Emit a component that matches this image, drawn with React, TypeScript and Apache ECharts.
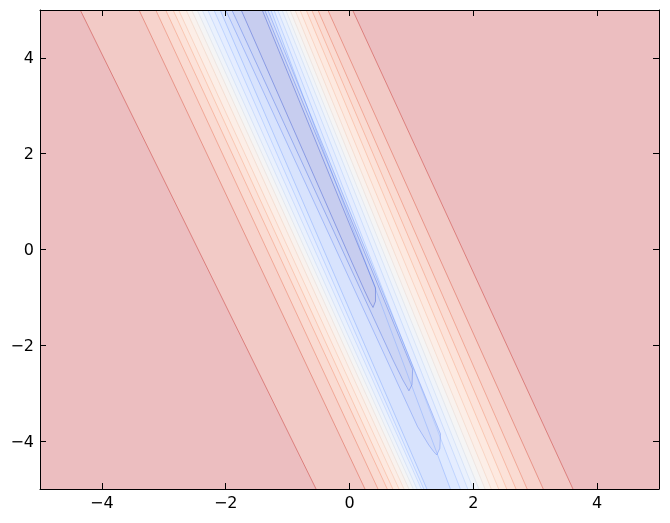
import { useEffect, useRef } from 'react';
import * as echarts from 'echarts';

// axis ticks
const xTicks = [-4, -2, 0, 2, 4];
const yTicks = [-4, -2, 0, 2, 4];

// contour lines, k = 0 (outermost, highest level) ... 15 (innermost, lowest level)
// x position where each contour's left / right arm crosses the top edge (y = 5)
const leftTopX = [-4.35, -3.40, -3.13, -2.97, -2.85, -2.76, -2.64, -2.55, -2.46, -2.38, -2.29, -2.19, -2.09, -2.00, -1.90, -1.75];
const rightTopX = [0.05, -0.35, -0.51, -0.61, -0.70, -0.80, -0.88, -0.96, -1.03, -1.09, -1.16, -1.22, -1.27, -1.32, -1.37, -1.41];
// x position where the open contours (k = 0..12) cross the bottom edge (y = -5)
const leftBottomX = [-0.54, 0.25, 0.46, 0.61, 0.70, 0.80, 0.88, 0.96, 1.03, 1.09, 1.16, 1.20, 1.25];
const rightBottomX = [3.61, 3.13, 2.87, 2.69, 2.54, 2.41, 2.29, 2.19, 2.09, 2.00, 1.91, 1.79, 1.63];
// closed-tip contours (k = 13, 14, 15): intermediate arm points and tip
const tipLeftMid = [
  [[1.10, -3.70], [1.28, -4.08], [1.36, -4.22]],
  [[0.70, -2.30], [0.86, -2.72], [0.93, -2.88]],
  [[0.05, -0.30], [0.24, -0.85], [0.33, -1.10]],
];
const tipRightMid = [
  [[1.47, -3.85], [1.46, -4.15]],
  [[1.02, -2.50], [1.01, -2.82]],
  [[0.42, -0.80], [0.42, -1.08]],
];
const tipPoint = [[1.41, -4.29], [0.96, -2.95], [0.38, -1.21]];

// coolwarm colour table
const CW = [
  [59, 76, 192], [68, 90, 204], [77, 104, 215], [87, 117, 225], [98, 130, 234], [108, 142, 241],
  [119, 154, 247], [130, 165, 251], [141, 176, 254], [152, 185, 255], [163, 194, 255], [174, 201, 253],
  [184, 208, 249], [194, 213, 244], [203, 217, 238], [212, 219, 230], [221, 221, 221], [229, 216, 209],
  [236, 211, 198], [241, 204, 185], [245, 196, 173], [247, 187, 160], [247, 177, 148], [247, 166, 135],
  [244, 154, 123], [241, 141, 111], [236, 127, 99], [229, 112, 88], [222, 96, 77], [213, 80, 66],
  [203, 62, 56], [192, 40, 47], [180, 4, 38],
];
function cmap(t: number) {
  const p = Math.max(0, Math.min(1, t)) * 32;
  const i = Math.min(31, Math.floor(p));
  const f = p - i;
  return CW[i].map((c, j) => c + (CW[i + 1][j] - c) * f);
}
function solid(rgb: number[], a: number) {
  return `rgb(${rgb.map((c) => Math.round(255 - a * (255 - c))).join(',')})`;
}
function rgba(rgb: number[], a: number) {
  return `rgba(${rgb.map((c) => Math.round(c)).join(',')},${a})`;
}

type Contour = { left: number[][]; right: number[][]; tip: boolean };
const contours: Contour[] = [];
for (let k = 0; k < leftTopX.length; k++) {
  if (k < leftBottomX.length) {
    contours.push({
      left: [[leftTopX[k], 5], [leftBottomX[k], -5]],
      right: [[rightTopX[k], 5], [rightBottomX[k], -5]],
      tip: false,
    });
  } else {
    const j = k - leftBottomX.length;
    contours.push({
      left: [[leftTopX[k], 5], ...tipLeftMid[j], tipPoint[j]],
      right: [[rightTopX[k], 5], ...tipRightMid[j], tipPoint[j]],
      tip: true,
    });
  }
}
const N = contours.length;
const ALPHA = 0.3;
const bandColor = (j: number) => solid(cmap((N - j + 0.5) / (N + 1)), ALPHA);
const lineColor = (k: number) => rgba(cmap((N - k) / (N + 1)), 0.5);

const fmt = (v: number) => (v < 0 ? '\u2212' + -v : String(v));

export default function App() {
  const ref = useRef<HTMLDivElement>(null);
  useEffect(() => {
    if (!ref.current) return;
    const chart = echarts.init(ref.current, undefined, { renderer: 'svg' });
    const font = { color: '#000', fontSize: 16, fontFamily: 'DejaVu Sans' };
    const axisCommon = {
      type: 'value' as const,
      min: -5,
      max: 5,
      z: 10,
      splitLine: { show: false },
      axisLine: { show: true, onZero: false, lineStyle: { color: '#000', width: 1 } },
    };
    const fillData = Array.from({ length: N + 1 }, (_, i) => [0, 0, i]);
    const lineData = Array.from({ length: N }, (_, i) => [0, 0, i]);
    chart.setOption({
      animation: false,
      grid: { left: 40, top: 10, right: 11, bottom: 34 },
      xAxis: [
        {
          ...axisCommon,
          position: 'bottom',
          axisTick: { show: true, inside: true, length: 6, customValues: xTicks, lineStyle: { color: '#000' } },
          axisLabel: { ...font, customValues: xTicks, formatter: fmt, margin: 5 },
        },
        {
          ...axisCommon,
          position: 'top',
          axisTick: { show: true, inside: true, length: 6, customValues: xTicks, lineStyle: { color: '#000' } },
          axisLabel: { show: false },
        },
      ],
      yAxis: [
        {
          ...axisCommon,
          position: 'left',
          axisTick: { show: true, inside: true, length: 6, customValues: yTicks, lineStyle: { color: '#000' } },
          axisLabel: { ...font, customValues: yTicks, formatter: fmt, margin: 6 },
        },
        {
          ...axisCommon,
          position: 'right',
          axisTick: { show: true, inside: true, length: 6, customValues: yTicks, lineStyle: { color: '#000' } },
          axisLabel: { show: false },
        },
      ],
      series: [
        {
          type: 'custom',
          xAxisIndex: 0,
          yAxisIndex: 0,
          silent: true,
          data: fillData,
          renderItem: (params: any, api: any) => {
            const i = params.dataIndex;
            let pts: number[][];
            if (i === 0) {
              pts = [[-5, 5], [5, 5], [5, -5], [-5, -5]];
            } else {
              const c = contours[i - 1];
              pts = c.left.concat(c.right.slice().reverse());
            }
            return {
              type: 'polygon',
              shape: { points: pts.map((p) => api.coord(p)) },
              style: { fill: bandColor(i), stroke: null },
            };
          },
        },
        {
          type: 'custom',
          xAxisIndex: 0,
          yAxisIndex: 0,
          silent: true,
          data: lineData,
          renderItem: (params: any, api: any) => {
            const k = params.dataIndex;
            const c = contours[k];
            const style = { stroke: lineColor(k), lineWidth: 1, fill: null };
            if (c.tip) {
              return {
                type: 'polyline',
                shape: { points: c.left.concat(c.right.slice().reverse()).map((p) => api.coord(p)) },
                style,
              };
            }
            return {
              type: 'group',
              children: [
                { type: 'polyline', shape: { points: c.left.map((p) => api.coord(p)) }, style },
                { type: 'polyline', shape: { points: c.right.map((p) => api.coord(p)) }, style },
              ],
            };
          },
        },
      ],
    });
    return () => chart.dispose();
  }, []);
  return <div ref={ref} style={{ position: 'fixed', left: 0, top: 0, width: 670, height: 523 }} />;
}
